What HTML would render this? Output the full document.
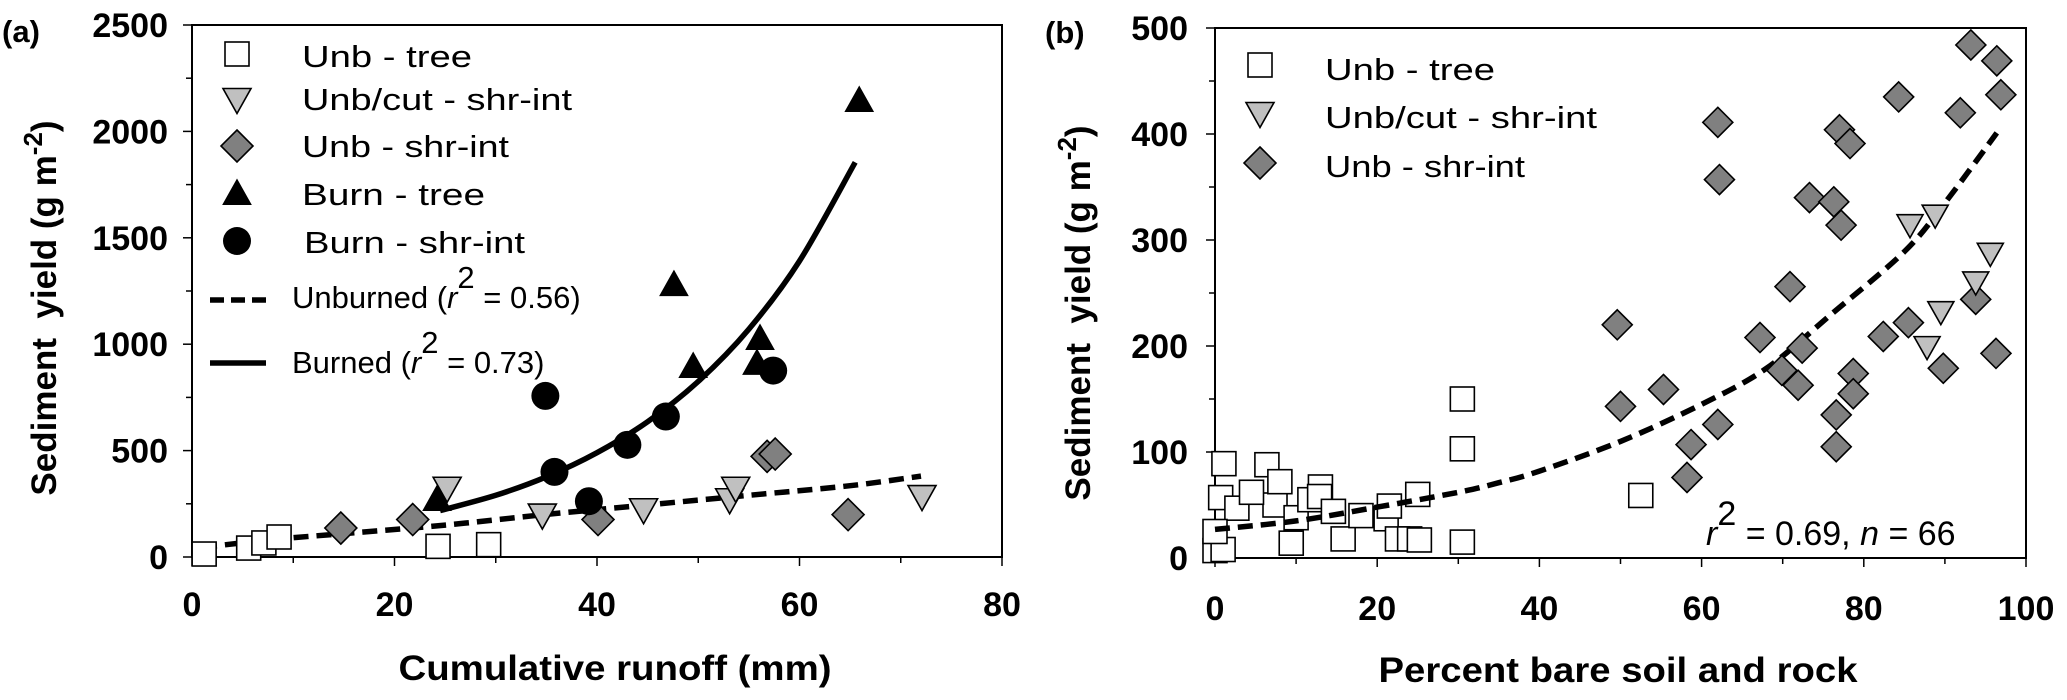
<!DOCTYPE html>
<html><head><meta charset="utf-8"><style>
html,body{margin:0;padding:0;background:#fff;}
svg{display:block;font-family:"Liberation Sans",Arial,sans-serif;}
</style></head><body>
<svg id="chart" width="2067" height="700" viewBox="0 0 2067 700" xmlns="http://www.w3.org/2000/svg">
<g id="panelA"></g>
<g id="panelB"></g>
</svg>
<script>
// ---- Panel (a) data ----
const aUnbTreeX = [1.2, 5.6, 7.1, 8.6, 24.3, 29.3];
const aUnbTreeY = [14, 42, 66, 94, 50, 58];
const aUnbCutX = [25.2, 34.6, 44.6, 53.1, 53.7, 72.1];
const aUnbCutY = [316, 190, 215, 262, 316, 277];
const aUnbShrX = [14.7, 21.8, 40.1, 56.8, 57.6, 64.8];
const aUnbShrY = [136, 176, 176, 473, 484, 199];
const aBurnTreeX = [24.2, 47.6, 49.5, 55.8, 56.1, 65.9];
const aBurnTreeY = [277, 1287, 902, 917, 1034, 2152];
const aBurnShrX = [34.9, 35.8, 39.2, 43.0, 46.8, 57.4];
const aBurnShrY = [757, 400, 262, 527, 660, 876];
const aUnburnedFitX = [1, 8, 15, 25, 35, 45, 55, 65, 72];
const aUnburnedFitY = [45, 82, 110, 150, 200, 245, 290, 335, 380];
const aBurnedFitX = [24.5, 30, 35, 40, 45, 50, 55, 60, 65.5];
const aBurnedFitY = [218, 290, 377, 490, 636, 825, 1071, 1391, 1855];
const aXTicks = [0, 20, 40, 60, 80];
const aYTicks = [0, 500, 1000, 1500, 2000, 2500];

// ---- Panel (b) data ----
const bUnbTreeX = [1.1, 6.4, 0.7, 2.7, 7.4, 10, 11.7, 13, 12.9, 14.6, 15.8, 9.4, 21.1, 21.5, 22.5, 25, 24, 25.2, 30.5, 30.5, 30.5, 52.5, 0, 1, 0, 4.5, 18, 8];
const bUnbTreeY = [89, 88, 57, 47, 50, 38, 55, 67, 58, 44, 18, 14, 37, 49, 18, 60, 18, 17, 15, 103, 150, 59, 7, 8, 25, 62, 40, 72];
const bUnbCutX = [85.7, 88.8, 95.6, 93.8, 89.5, 87.8];
const bUnbCutY = [313, 322, 286, 259, 231, 198];
const bUnbShrX = [93.2, 96.4, 96.9, 84.3, 91.9, 62, 62.2, 77, 78.3, 73.3, 76.3, 77.2, 70.9,
  49.6, 50, 55.3, 62, 58.7, 58.2, 67.2, 72.4, 69.9, 71.9, 78.7, 78.7, 76.6, 76.6, 82.4, 85.5, 89.8, 93.8, 96.3];
const bUnbShrY = [484, 469, 437, 435, 420, 411, 357, 404, 391, 340, 336, 314, 256,
  220, 143, 159, 126, 107, 76, 208, 198, 177, 163, 174, 155, 135, 105, 209, 222, 179, 244, 193];
const bFitX = [0, 10, 20, 30, 35, 40, 50, 60, 68, 76, 85, 90, 96.4];
const bFitY = [27, 35, 48, 62, 71, 82, 110, 145, 179, 230, 289, 335, 401];
const bXTicks = [0, 20, 40, 60, 80, 100];
const bYTicks = [0, 100, 200, 300, 400, 500];

const NS = "http://www.w3.org/2000/svg";
function el(tag, attrs, parent) {
  const e = document.createElementNS(NS, tag);
  for (const k in attrs) e.setAttribute(k, attrs[k]);
  parent.appendChild(e);
  return e;
}
const xA = v => 192 + v * 10.125;
const yA = v => 557 - v * 0.2128;
const xB = v => 1215 + v * 8.11;
const yB = v => 558 - v * 1.06;

function square(g, cx, cy, s) {
  return el('rect', {x: cx - s/2, y: cy - s/2, width: s, height: s, fill: '#fff', stroke: '#000', 'stroke-width': 1.6}, g);
}
function triDown(g, cx, cy, w, h) {
  return el('polygon', {points: `${cx-w/2},${cy-h/2} ${cx+w/2},${cy-h/2} ${cx},${cy+h/2}`, fill: '#c0c0c0', stroke: '#000', 'stroke-width': 1.6}, g);
}
function triUp(g, cx, cy, w, h) {
  return el('polygon', {points: `${cx-w/2},${cy+h/2} ${cx+w/2},${cy+h/2} ${cx},${cy-h/2}`, fill: '#000', stroke: '#000', 'stroke-width': 1}, g);
}
function diamond(g, cx, cy, r) {
  return el('polygon', {points: `${cx},${cy-r} ${cx+r},${cy} ${cx},${cy+r} ${cx-r},${cy}`, fill: '#808080', stroke: '#000', 'stroke-width': 1.6}, g);
}
function circle(g, cx, cy, r) {
  return el('circle', {cx: cx, cy: cy, r: r, fill: '#000'}, g);
}
function curve(g, xs, ys, fx, fy, dash) {
  const P = xs.map((x, i) => [fx(x), fy(ys[i])]);
  let d = 'M' + P[0][0].toFixed(1) + ',' + P[0][1].toFixed(1);
  for (let i = 0; i < P.length - 1; i++) {
    const p0 = P[Math.max(0, i - 1)], p1 = P[i], p2 = P[i + 1], p3 = P[Math.min(P.length - 1, i + 2)];
    const c1 = [p1[0] + (p2[0] - p0[0]) / 6, p1[1] + (p2[1] - p0[1]) / 6];
    const c2 = [p2[0] - (p3[0] - p1[0]) / 6, p2[1] - (p3[1] - p1[1]) / 6];
    d += 'C' + c1.map(v => v.toFixed(1)).join(',') + ' ' + c2.map(v => v.toFixed(1)).join(',') + ' ' + p2.map(v => v.toFixed(1)).join(',');
  }
  const attrs = {d: d, fill: 'none', stroke: '#000', 'stroke-width': 5.5, 'stroke-linejoin': 'round'};
  if (dash) attrs['stroke-dasharray'] = '15 8';
  return el('path', attrs, g);
}
function text(g, x, y, str, attrs) {
  const t = el('text', Object.assign({x: x, y: y}, attrs || {}), g);
  t.textContent = str;
  return t;
}

// ================= PANEL A =================
const A = document.getElementById('panelA');
const fa = el('rect', {x: 192, y: 25, width: 810, height: 532, fill: 'none', stroke: '#000', 'stroke-width': 2}, A);


for (let v = 0; v <= 2500; v += 250) {
  const major = v % 500 === 0;
  el('line', {x1: 192 - (major ? 9 : 6), x2: 192, y1: yA(v), y2: yA(v), stroke: '#000', 'stroke-width': 1.5}, A);
}
for (let v = 0; v <= 80; v += 10) {
  const major = v % 20 === 0;
  el('line', {x1: xA(v), x2: xA(v), y1: 557, y2: 557 + (major ? 9 : 6), stroke: '#000', 'stroke-width': 1.5}, A);
}
aYTicks.forEach(v => {
  const t = text(A, 168, yA(v) + 12, String(v), {'text-anchor': 'end', 'font-size': 34, 'font-weight': 'bold'});
  
  
});
aXTicks.forEach(v => {
  const t = text(A, xA(v), 616, String(v), {'text-anchor': 'middle', 'font-size': 34, 'font-weight': 'bold'});
  
  
});
let t;
t = text(A, 615, 680, 'Cumulative runoff (mm)', {'text-anchor': 'middle', 'font-size': 35, 'font-weight': 'bold', textLength: 433, lengthAdjust: 'spacingAndGlyphs'});


t = el('text', {x: 0, y: 0, 'text-anchor': 'middle', 'font-size': 35, 'font-weight': 'bold', transform: 'translate(56,308) rotate(-90)'}, A);
t.innerHTML = 'Sediment&#160;&#160;yield (g m<tspan dy="-14" font-size="26">-2</tspan><tspan dy="14">)</tspan>';


t = text(A, 2, 42, '(a)', {'font-size': 31, 'font-weight': 'bold'});



let c = curve(A, aUnburnedFitX, aUnburnedFitY, xA, yA, true);


c = curve(A, aBurnedFitX, aBurnedFitY, xA, yA, false);



aUnbTreeX.forEach((x, i) => { const m = square(A, xA(x), yA(aUnbTreeY[i]), 24);
  
   });
aUnbShrX.forEach((x, i) => { const m = diamond(A, xA(x), yA(aUnbShrY[i]), 16);
  
   });
aUnbCutX.forEach((x, i) => { const m = triDown(A, xA(x), yA(aUnbCutY[i]), 28, 25);
  
   });
aBurnTreeX.forEach((x, i) => { const m = triUp(A, xA(x), yA(aBurnTreeY[i]), 28, 25);
  
   });
aBurnShrX.forEach((x, i) => { const m = circle(A, xA(x), yA(aBurnShrY[i]), 14);
  
   });

// legend a
const LA = el('g', {}, A);


square(LA, 237, 54, 24);
triDown(LA, 237, 101, 28, 25);
diamond(LA, 237, 146, 16);
triUp(LA, 237, 192, 28, 25);
circle(LA, 237, 241, 14);
const legA = [['Unb  -  tree', 67, 170], ['Unb/cut - shr-int', 110, 270], ['Unb - shr-int', 157, 207], ['Burn -  tree', 205, 183], ['Burn - shr-int', 253, 221]];
legA.forEach((r, i) => {
  const tt = text(LA, i === 4 ? 304 : 302, r[1], r[0], {'font-size': 31, textLength: r[2], lengthAdjust: 'spacingAndGlyphs'});
  
  
});
el('line', {x1: 210, x2: 266, y1: 300, y2: 300, stroke: '#000', 'stroke-width': 5.5, 'stroke-dasharray': '14 7'}, LA);
el('line', {x1: 210, x2: 266, y1: 363, y2: 363, stroke: '#000', 'stroke-width': 5.5}, LA);
t = el('text', {x: 292, y: 308, 'font-size': 31}, LA);
t.innerHTML = 'Unburned (<tspan font-style="italic">r</tspan><tspan dy="-20" font-size="31">2</tspan><tspan dy="20"> = 0.56)</tspan>';


t = el('text', {x: 292, y: 373, 'font-size': 31}, LA);
t.innerHTML = 'Burned (<tspan font-style="italic">r</tspan><tspan dy="-20" font-size="31">2</tspan><tspan dy="20"> = 0.73)</tspan>';



// ================= PANEL B =================
const B = document.getElementById('panelB');
const fb = el('rect', {x: 1215, y: 28, width: 811, height: 530, fill: 'none', stroke: '#000', 'stroke-width': 2}, B);


for (let v = 0; v <= 500; v += 50) {
  const major = v % 100 === 0;
  el('line', {x1: 1215 - (major ? 9 : 6), x2: 1215, y1: yB(v), y2: yB(v), stroke: '#000', 'stroke-width': 1.5}, B);
}
for (let v = 0; v <= 100; v += 10) {
  const major = v % 20 === 0;
  el('line', {x1: xB(v), x2: xB(v), y1: 558, y2: 558 + (major ? 9 : 6), stroke: '#000', 'stroke-width': 1.5}, B);
}
bYTicks.forEach(v => {
  const tt = text(B, 1188, yB(v) + 12, String(v), {'text-anchor': 'end', 'font-size': 34, 'font-weight': 'bold'});
  
  
});
bXTicks.forEach(v => {
  const tt = text(B, xB(v), 620, String(v), {'text-anchor': 'middle', 'font-size': 34, 'font-weight': 'bold'});
  
  
});
t = text(B, 1618, 682, 'Percent bare  soil and rock', {'text-anchor': 'middle', 'font-size': 35, 'font-weight': 'bold', textLength: 479, lengthAdjust: 'spacingAndGlyphs'});


t = el('text', {x: 0, y: 0, 'text-anchor': 'middle', 'font-size': 35, 'font-weight': 'bold', transform: 'translate(1090,313) rotate(-90)'}, B);
t.innerHTML = 'Sediment&#160;&#160;yield (g m<tspan dy="-14" font-size="26">-2</tspan><tspan dy="14">)</tspan>';


t = text(B, 1045, 43, '(b)', {'font-size': 31, 'font-weight': 'bold'});



bUnbTreeX.forEach((x, i) => { const m = square(B, xB(x), yB(bUnbTreeY[i]), 24);
  
   });
c = curve(B, bFitX, bFitY, xB, yB, true);


bUnbShrX.forEach((x, i) => { const m = diamond(B, xB(x), yB(bUnbShrY[i]), 15);
  
   });
bUnbCutX.forEach((x, i) => { const m = triDown(B, xB(x), yB(bUnbCutY[i]), 26, 23);
  
   });

const LB = el('g', {}, B);


square(LB, 1260, 65, 24);
triDown(LB, 1260, 115, 28, 25);
diamond(LB, 1260, 163, 16);
t = text(LB, 1325, 80, 'Unb  -  tree', {'font-size': 31, textLength: 170, lengthAdjust: 'spacingAndGlyphs'});


t = text(LB, 1325, 128, 'Unb/cut - shr-int', {'font-size': 31, textLength: 272, lengthAdjust: 'spacingAndGlyphs'});


t = text(LB, 1325, 177, 'Unb - shr-int', {'font-size': 31, textLength: 200, lengthAdjust: 'spacingAndGlyphs'});


t = el('text', {x: 1706, y: 545, 'font-size': 34}, B);
t.innerHTML = '<tspan font-style="italic">r</tspan><tspan dy="-20">2</tspan><tspan dy="20"> = 0.69, </tspan><tspan font-style="italic">n</tspan> = 66';


</script>
</body></html>
